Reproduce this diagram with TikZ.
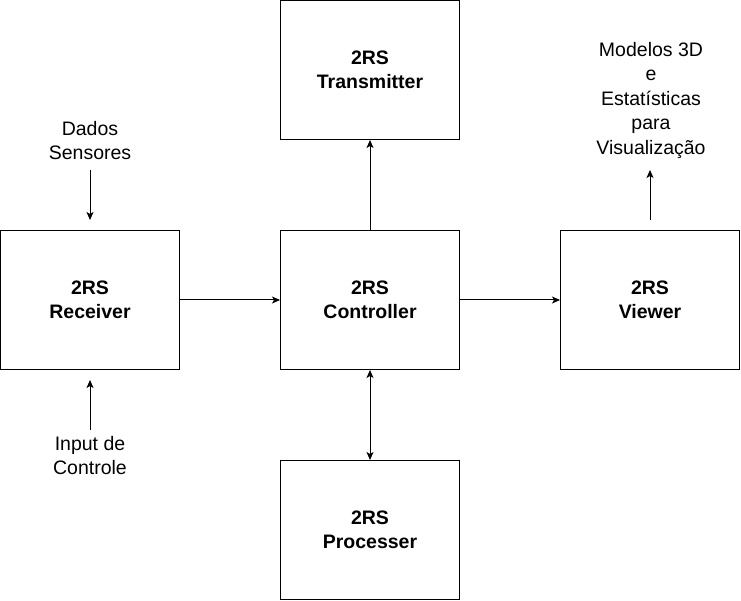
\documentclass[tikz,border=0pt]{standalone}
\usepackage{fontspec}
\setmainfont{Liberation Sans}
\usetikzlibrary{arrows.meta}

\begin{document}
\begin{tikzpicture}[
  x=1pt, y=-1pt,
  font=\fontsize{19.5}{24.5}\selectfont,
  blk/.style={draw, line width=1pt, minimum width=179pt, minimum height=139pt,
              inner sep=0pt, align=center,
              font=\fontsize{19.5}{24.5}\selectfont\bfseries},
  lbl/.style={align=center, inner sep=0pt},
  flow/.style={line width=1pt, -{Stealth[length=8pt,width=7pt,inset=2pt]}},
  both/.style={line width=1pt,
               {Stealth[length=8pt,width=7pt,inset=2pt]}-{Stealth[length=8pt,width=7pt,inset=2pt]}}
]
\useasboundingbox (0,0) rectangle (741,601);

% --- blocks ---
\node[blk] (recv)  at (90,300)  {2RS\\Receiver};
\node[blk] (ctrl)  at (370,300) {2RS\\Controller};
\node[blk] (view)  at (650,300) {2RS\\Viewer};
\node[blk] (trans) at (370,70)  {2RS\\Transmitter};
\node[blk] (proc)  at (370,530) {2RS\\Processer};

% --- outside labels ---
\node[lbl] (dados)   at (90,140.5)  {Dados\\Sensores};
\node[lbl] (input)   at (90,455.5)  {Input de\\Controle};
\node[lbl] (modelos) at (651,100.5)
  {Modelos 3D\\e\\Estatísticas\\para\\Visualização};
\coordinate (dados tail)   at (90,170);
\coordinate (input tail)   at (90,430);
\coordinate (modelos tip)  at (650,170);

% --- connectors ---
\draw[flow] (recv) -- (ctrl);
\draw[flow] (ctrl) -- (view);
\draw[flow] (ctrl) -- (trans);
\draw[both] (ctrl) -- (proc);
\draw[flow, shorten >=10pt] (dados tail) -- (recv.north);
\draw[flow, shorten >=10pt] (input tail) -- (recv.south);
\draw[flow, shorten <=10pt] (view.north) -- (modelos tip);

\end{tikzpicture}
\end{document}
